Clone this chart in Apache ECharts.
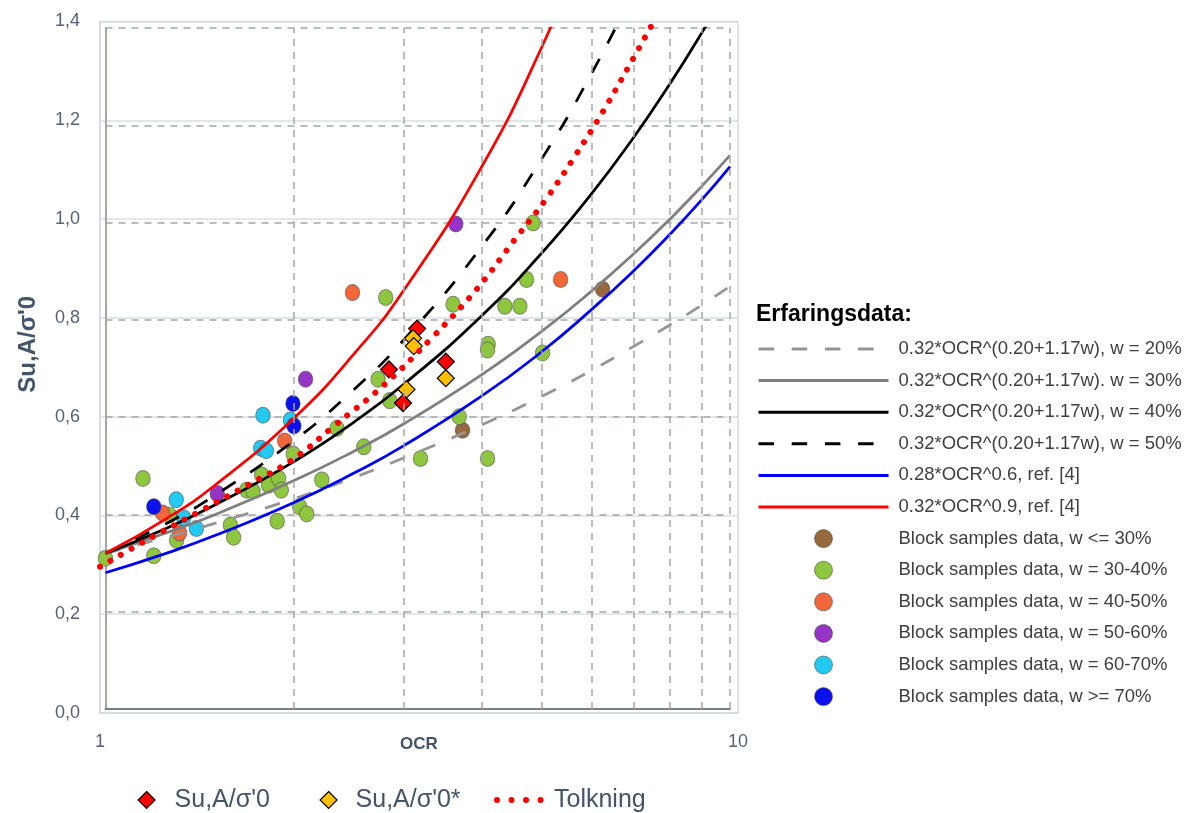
<!DOCTYPE html>
<html>
<head>
<meta charset="utf-8">
<script src="https://cdn.jsdelivr.net/npm/echarts@6/dist/echarts.min.js"></script>
<style>
html,body{margin:0;padding:0;background:#fff;}
#chart{width:1193px;height:813px;}
</style>
</head>
<body>
<div id="chart"></div>
<script>
// ---------- data ----------
const curveOcr = [1, 1.25, 1.5, 2, 2.5, 3, 4, 5, 6, 7, 8, 9, 10];
const w20 = [0.320, 0.353, 0.382, 0.432, 0.476, 0.516, 0.584, 0.643, 0.696, 0.745, 0.789, 0.830, 0.869];
const w30 = [0.320, 0.362, 0.400, 0.469, 0.530, 0.586, 0.687, 0.777, 0.859, 0.935, 1.006, 1.074, 1.138];
const w40 = [0.320, 0.371, 0.420, 0.508, 0.590, 0.667, 0.808, 0.938, 1.059, 1.174, 1.284, 1.389, 1.490];
const w50 = [0.320, 0.381, 0.440, 0.551, 0.657, 0.758, 0.950, 1.132, 1.306, 1.474];
const ref06 = [0.280, 0.320, 0.357, 0.424, 0.485, 0.541, 0.643, 0.735, 0.821, 0.900, 0.975, 1.046, 1.115];
const ref09 = [0.320, 0.391, 0.461, 0.597, 0.730, 0.860, 1.114, 1.362, 1.605];

const tolkOcr = [1.0, 1.176, 1.446, 1.708, 2.009, 2.327, 2.787, 3.299, 3.871, 4.472, 5.013, 5.567, 6.151, 6.748, 7.385];
const tolkVal = [0.296, 0.348, 0.411, 0.462, 0.514, 0.581, 0.664, 0.757, 0.854, 0.959, 1.042, 1.130, 1.219, 1.310, 1.401];

const brownPts = [[3.730,0.573],[6.252,0.863]];
const greenPts = [[1.0,0.310],[1.148,0.474],[1.195,0.315],[1.266,0.399],[1.300,0.347],[1.585,0.378],[1.604,0.353],
  [1.683,0.450],[1.723,0.448],[1.778,0.481],[1.825,0.460],[1.893,0.474],[1.912,0.450],[1.883,0.386],[1.998,0.524],
  [2.046,0.416],[2.100,0.401],[2.220,0.471],[2.348,0.577],[2.592,0.539],[2.732,0.678],[2.810,0.846],[2.852,0.634],
  [3.194,0.515],[3.602,0.832],[3.684,0.601],[4.090,0.515],[4.100,0.750],[4.090,0.738],[4.360,0.828],[4.608,0.828],
  [4.723,0.883],[4.840,0.999],[5.010,0.732]];
const orangePts = [[2.486,0.856],[5.355,0.883],[1.936,0.551],[1.234,0.403],[1.314,0.362]];
const purplePts = [[3.638,0.997],[2.091,0.678],[1.510,0.443]];
const cyanPts = [[1.787,0.604],[1.772,0.536],[1.809,0.531],[1.977,0.594],[1.298,0.430],[1.334,0.393],[1.398,0.371]];
const bluePts = [[1.195,0.416],[1.996,0.628],[2.003,0.582]];
const suPts = [[3.155,0.782],[2.844,0.698],[3.507,0.714],[2.995,0.629]];
const suStarPts = [[3.108,0.762],[3.116,0.746],[3.507,0.680],[3.033,0.657]];

const xMinorTicks = [2, 3, 4, 5, 6, 7, 8, 9, 10];
const yTickLabels = ['0,0','0,2','0,4','0,6','0,8','1,0','1,2','1,4'];

const names = {
  w20: "0.32*OCR^(0.20+1.17w), w = 20%",
  w30: "0.32*OCR^(0.20+1.17w). w = 30%",
  w40: "0.32*OCR^(0.20+1.17w), w = 40%",
  w50: "0.32*OCR^(0.20+1.17w), w = 50%",
  r06: "0.28*OCR^0.6, ref. [4]",
  r09: "0.32*OCR^0.9, ref. [4]",
  b30: "Block samples data, w <= 30%",
  b34: "Block samples data, w = 30-40%",
  b45: "Block samples data, w = 40-50%",
  b56: "Block samples data, w = 50-60%",
  b67: "Block samples data, w = 60-70%",
  b70: "Block samples data, w >= 70%",
  su: "Su,A/σ'0",
  suS: "Su,A/σ'0*",
  tolk: "Tolkning"
};

// ---------- styling ----------
const FONT = 'Liberation Sans, Arial, sans-serif';
const LABEL_COLOR = '#57627a';
const TITLE_COLOR = '#44546a';
const LIGHT = '#d3dae4';
const DASH_GRAY = '#a6a6a6';
const longDash = [15.5, 17.7];

function pairs(xs, ys) { return ys.map((v, i) => [xs[i], v]); }

function curve(name, ys, color, dash) {
  return {
    type: 'line', name, xAxisIndex: 1, yAxisIndex: 1,
    data: pairs(curveOcr, ys), symbol: 'none', showSymbol: false,
    smooth: 0.5, clip: true, silent: true, z: 3,
    lineStyle: { color, width: 2.75, type: dash || 'solid' }
  };
}
function dots(name, data, color) {
  return {
    type: 'scatter', name, xAxisIndex: 1, yAxisIndex: 1, data,
    symbol: 'circle', symbolSize: [14.5, 16], z: 2, silent: true,
    itemStyle: { color, opacity: 1, borderColor: 'rgba(70,70,70,0.55)', borderWidth: 1 }
  };
}
function diamonds(name, data, color) {
  return {
    type: 'scatter', name, xAxisIndex: 1, yAxisIndex: 1, data,
    symbol: 'diamond', symbolSize: 17, z: 4, silent: true,
    itemStyle: { color, opacity: 1, borderColor: '#000', borderWidth: 1.2 }
  };
}
function lineLegendItem(name, dash) {
  return { name, itemStyle: { opacity: 0 }, lineStyle: { width: 3, type: dash || 'solid' } };
}

const chart = echarts.init(document.getElementById('chart'));
chart.setOption({
  animation: false,
  backgroundColor: '#fff',
  textStyle: { fontFamily: FONT },
  title: {
    text: 'Erfaringsdata:', left: 756, top: 303, padding: 0,
    textStyle: { fontSize: 23, fontWeight: 'bold', color: '#000', fontFamily: FONT }
  },
  grid: [
    { left: 100, right: 455, top: 21.5, bottom: 100, show: true, borderColor: LIGHT, borderWidth: 1.5 },
    { left: 105.5, right: 463, top: 28, bottom: 104 }
  ],
  xAxis: [
    {
      type: 'log', gridIndex: 0, logBase: 10, min: 1, max: 10,
      axisLine: { show: true, lineStyle: { color: LIGHT, width: 1.5 } },
      axisTick: { show: false }, splitLine: { show: false }, minorTick: { show: false },
      axisLabel: { color: LABEL_COLOR, fontSize: 18, margin: 20, fontFamily: FONT },
      name: 'OCR', nameLocation: 'middle', nameGap: 23, nameMoveOverlap: false,
      nameTextStyle: { fontWeight: 'bold', fontSize: 17, color: TITLE_COLOR, fontFamily: FONT }
    },
    {
      type: 'log', gridIndex: 1, logBase: 10, min: 1, max: 10,
      axisLine: { show: true, onZero: false, lineStyle: { color: '#7f7f7f', width: 2 } },
      axisTick: { show: false }, axisLabel: { show: false }, splitLine: { show: false }
    }
  ],
  yAxis: [
    {
      type: 'value', gridIndex: 0, min: 0, max: 1.4, interval: 0.2,
      axisLine: { show: true, lineStyle: { color: LIGHT, width: 1.5 } },
      axisTick: { show: false },
      splitLine: { show: true, lineStyle: { color: '#d9dfe8', width: 1.5 } },
      axisLabel: {
        color: LABEL_COLOR, fontSize: 18, margin: 20, fontFamily: FONT,
        formatter: v => yTickLabels[Math.round(v / 0.2)]
      },
      name: names.su, nameLocation: 'middle', nameRotate: 90, nameGap: 60, nameMoveOverlap: false,
      nameTextStyle: { fontWeight: 'bold', fontSize: 24, color: TITLE_COLOR, fontFamily: FONT, padding: [0, 0, 0, 46] }
    },
    {
      type: 'value', gridIndex: 1, min: 0, max: 1.4, interval: 0.2,
      axisLine: { show: true, lineStyle: { color: DASH_GRAY, width: 2 } },
      axisTick: { show: false }, axisLabel: { show: false },
      splitLine: { show: true, lineStyle: { color: DASH_GRAY, width: 1.5, type: [7, 6] } }
    }
  ],
  legend: [
    {
      orient: 'vertical', left: 757, top: 339.5, itemWidth: 130, itemHeight: 18, itemGap: 12.6,
      selectedMode: false, padding: 0,
      textStyle: { fontSize: 18.5, color: '#404040', fontFamily: FONT, lineHeight: 18, padding: [0, 0, 0, 5] },
      itemStyle: { borderWidth: 1, borderColor: 'rgba(70,70,70,0.55)' },
      data: [
        lineLegendItem(names.w20, longDash),
        lineLegendItem(names.w30),
        lineLegendItem(names.w40),
        lineLegendItem(names.w50, longDash),
        lineLegendItem(names.r06),
        lineLegendItem(names.r09),
        names.b30, names.b34, names.b45, names.b56, names.b67, names.b70
      ]
    },
    {
      left: 137.5, top: 787, itemWidth: 17, itemHeight: 17, selectedMode: false, padding: 0,
      textStyle: { fontSize: 25, color: TITLE_COLOR, fontFamily: FONT, lineHeight: 26, padding: [0, 0, 0, 14.5] },
      itemStyle: { borderWidth: 1.2, borderColor: '#000' },
      data: [names.su]
    },
    {
      left: 319.5, top: 787, itemWidth: 17, itemHeight: 17, selectedMode: false, padding: 0,
      textStyle: { fontSize: 25, color: TITLE_COLOR, fontFamily: FONT, lineHeight: 26, padding: [0, 0, 0, 13.5] },
      itemStyle: { borderWidth: 1.2, borderColor: '#000' },
      data: [names.suS]
    },
    {
      left: 494, top: 787, itemWidth: 48, itemHeight: 17, selectedMode: false, padding: 0,
      textStyle: { fontSize: 25, color: TITLE_COLOR, fontFamily: FONT, lineHeight: 26, padding: [0, 0, 0, 4] },
      data: [{ name: names.tolk, itemStyle: { opacity: 0 }, lineStyle: { width: 6, type: [0.01, 14.5], cap: 'round' } }]
    }
  ],
  series: [
    {
      type: 'line', name: '_minor', xAxisIndex: 1, yAxisIndex: 1, data: [[1, 0]],
      symbol: 'none', lineStyle: { width: 0 }, silent: true, z: 1,
      markLine: {
        silent: true, symbol: 'none', label: { show: false },
        lineStyle: { color: DASH_GRAY, width: 1.5, type: [7, 6] },
        data: xMinorTicks.map(v => ({ xAxis: v }))
      }
    },
    dots(names.b30, brownPts, '#98693c'),
    dots(names.b34, greenPts, '#8fc63f'),
    dots(names.b45, orangePts, '#f2673a'),
    dots(names.b56, purplePts, '#9634c8'),
    dots(names.b67, cyanPts, '#22c9f0'),
    dots(names.b70, bluePts, '#0a10ee'),
    curve(names.w20, w20, '#959595', longDash),
    curve(names.w30, w30, '#7f7f7f'),
    curve(names.w40, w40, '#000000'),
    curve(names.w50, w50, '#000000', longDash),
    curve(names.r06, ref06, '#0000ff'),
    curve(names.r09, ref09, '#ff0000'),
    diamonds(names.su, suPts, '#ff0000'),
    diamonds(names.suS, suStarPts, '#ffc000'),
    {
      type: 'line', name: names.tolk, xAxisIndex: 0, yAxisIndex: 0,
      data: pairs(tolkOcr, tolkVal), symbol: 'none', showSymbol: false, smooth: 0.4,
      silent: true, z: 5,
      lineStyle: { color: '#ff0000', width: 6, type: [0.01, 12.1], cap: 'round' }
    }
  ]
});
</script>
</body>
</html>
